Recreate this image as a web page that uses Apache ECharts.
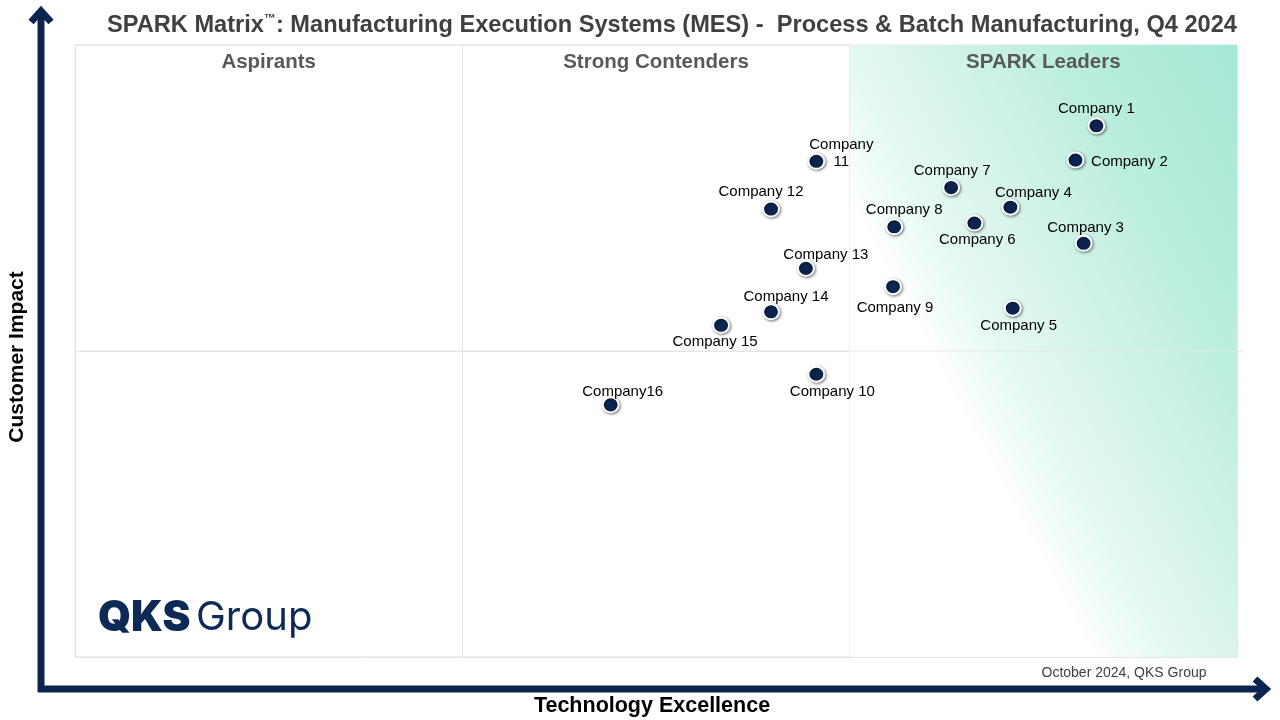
<!DOCTYPE html>
<html>
<head>
<meta charset="utf-8">
<script src="https://cdn.jsdelivr.net/npm/echarts@6/dist/echarts.min.js"></script>
<style>
html,body{margin:0;padding:0;background:#fff;}
#chart{width:1280px;height:720px;}
</style>
</head>
<body>
<div id="chart"></div>
<script>
// ---- data ----
var companies = ['Company 1','Company 2','Company 3','Company 4','Company 5','Company 6','Company 7','Company 8','Company 9','Company 10','Company\n11','Company 12','Company 13','Company 14','Company 15','Company16'];
var technologyExcellence = [87.9, 86.1, 86.8, 80.5, 80.7, 77.4, 75.4, 70.5, 70.4, 63.8, 63.8, 59.9, 62.9, 59.9, 55.6, 46.1];
var customerImpact = [86.8, 81.2, 67.6, 73.5, 57.0, 70.9, 76.7, 70.3, 60.5, 46.2, 81.0, 73.2, 63.5, 56.4, 54.2, 41.2];
var quadrantNames = ['Aspirants', 'Strong Contenders', 'SPARK Leaders'];

// label offsets (pixels, relative to the dot centre)
var labelOffsets = [[1,-18],[55,0],[3,-17],[24,-16],[7,16],[4,15],[2,-18],[11,-18],[3,20],[17,16],[26,-9],[-9,-19],[21,-15],[16,-17],[-5,15],[13,-15]];

var chart = echarts.init(document.getElementById('chart'));
var GL = 75, GT = 45, GW = 1162, GH = 612;
var navy = '#0b2550';
var SYM = [16, 15];
var LABEL_SHIFT_Y = 2.5;

var points = companies.map(function (n, i) {
  return {
    name: n,
    value: [technologyExcellence[i], customerImpact[i]],
    label: { position: [SYM[0] / 2 + labelOffsets[i][0], SYM[1] / 2 + labelOffsets[i][1] + LABEL_SHIFT_Y] }
  };
});

function arrowGraphics() {
  var st = { stroke: navy, lineWidth: 7, lineJoin: 'miter', lineCap: 'butt', fill: null };
  return [
    { type: 'polyline', shape: { points: [[41, 692], [41, 12]] }, style: st, z: 10 },
    { type: 'polyline', shape: { points: [[31, 22], [41, 11], [51, 22]] }, style: st, z: 10 },
    { type: 'polyline', shape: { points: [[38, 689], [1264, 689]] }, style: st, z: 10 },
    { type: 'polyline', shape: { points: [[1255, 679], [1266, 689], [1255, 699]] }, style: st, z: 10 }
  ];
}

var colW = GW / 3;
var headers = quadrantNames.map(function (q, i) {
  return {
    type: 'text', x: GL + colW * i + colW / 2, y: 62, z: 20,
    style: { text: q, font: 'bold 20.5px "Liberation Sans", Arial, sans-serif', fill: '#595959', align: 'center', verticalAlign: 'middle' }
  };
});

var option = {
  animation: false,
  backgroundColor: '#fff',
  title: {
    text: 'SPARK Matrix{sup|\u2122}: Manufacturing Execution Systems (MES) -  Process & Batch Manufacturing, Q4 2024',
    left: 667, top: 8, textAlign: 'center',
    textStyle: {
      fontFamily: '"Liberation Sans", Arial, sans-serif', fontWeight: 'bold', fontSize: 23.6, color: '#404040',
      rich: { sup: { fontSize: 12, fontWeight: 'bold', color: '#404040', verticalAlign: 'top', padding: [0, 0, 10, 0] } }
    }
  },
  grid: { left: GL, top: GT, width: GW, height: GH, show: true, borderColor: '#e3e3e3', borderWidth: 1, backgroundColor: 'transparent' },
  xAxis: {
    type: 'value', min: 0, max: 100, interval: 100 / 3,
    axisLine: { show: false }, axisTick: { show: false }, axisLabel: { show: false },
    splitLine: { show: true, lineStyle: { color: '#e6e6e6', width: 1 } }
  },
  yAxis: {
    type: 'value', min: 0, max: 100, interval: 50,
    axisLine: { show: false }, axisTick: { show: false }, axisLabel: { show: false },
    splitLine: { show: true, lineStyle: { color: '#e6e6e6', width: 1 } }
  },
  series: [{
    type: 'scatter',
    symbol: 'circle',
    symbolSize: SYM,
    z: 5,
    itemStyle: {
      color: navy, borderColor: '#ffffff', borderWidth: 2, opacity: 1,
      shadowBlur: 3, shadowColor: 'rgba(0,0,0,0.45)', shadowOffsetX: 1, shadowOffsetY: 1
    },
    label: {
      show: true, formatter: '{b}',
      fontFamily: '"Liberation Sans", Arial, sans-serif', fontSize: 15, color: '#000', lineHeight: 17,
      align: 'center', verticalAlign: 'middle'
    },
    emphasis: { disabled: true },
    labelLayout: { hideOverlap: false },
    data: points,
    markArea: {
      silent: true,
      z: 1,
      itemStyle: {
        color: new echarts.graphic.LinearGradient(1, 0, 0, 0.34, [
          { offset: 0, color: '#a4e8d5' },
          { offset: 0.38, color: '#bdeedf' },
          { offset: 0.62, color: '#d6f4ea' },
          { offset: 0.8, color: '#e5f9f3' },
          { offset: 0.95, color: '#ffffff' },
          { offset: 1, color: '#ffffff' }
        ])
      },
      data: [[{ xAxis: 100 * 2 / 3, yAxis: 100 }, { xAxis: 100, yAxis: 0 }]]
    }
  }],
  graphic: arrowGraphics().concat(headers).concat([
    { type: 'line', shape: { x1: GL + 5, y1: GT + GH / 2, x2: GL + GW + 6, y2: GT + GH / 2 }, style: { stroke: '#e6e6e6', lineWidth: 1 }, z: 2 },
    { type: 'text', x: 17, y: 357, rotation: Math.PI / 2, z: 20,
      style: { text: 'Customer Impact', font: 'bold 21px "Liberation Sans", Arial, sans-serif', fill: '#000', align: 'center', verticalAlign: 'middle' } },
    { type: 'text', x: 652, y: 706, z: 20,
      style: { text: 'Technology Excellence', font: 'bold 21.5px "Liberation Sans", Arial, sans-serif', fill: '#000', align: 'center', verticalAlign: 'middle' } },
    { type: 'text', x: 1124, y: 673, z: 20,
      style: { text: 'October 2024, QKS Group', font: '14px "Liberation Sans", Arial, sans-serif', fill: '#404040', align: 'center', verticalAlign: 'middle' } },
    { type: 'text', x: 98, y: 618, z: 20,
      style: { text: 'QKS', font: '900 42px Inter, "Noto Sans", sans-serif', fill: '#0d2a57', align: 'left', verticalAlign: 'middle' } },
    { type: 'text', x: 196, y: 618, z: 20,
      style: { text: 'Group', font: '400 40px Inter, "Noto Sans", sans-serif', fill: '#0d2a57', align: 'left', verticalAlign: 'middle' } }
  ])
};
chart.setOption(option);
</script>
</body>
</html>
